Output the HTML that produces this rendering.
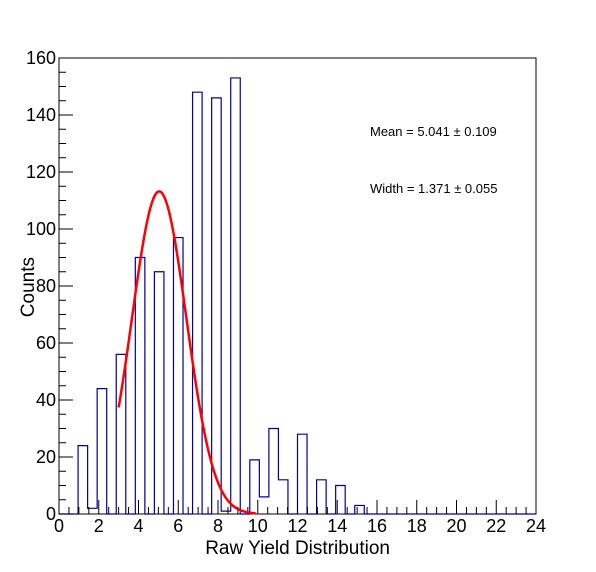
<!DOCTYPE html>
<html><head><meta charset="utf-8"><style>
html,body{margin:0;padding:0;background:#fff;}
svg{display:block;font-family:"Liberation Sans",Arial,sans-serif;}
</style></head><body>
<svg id="c" width="596" height="572"></svg>
<script>
const binWidth = 0.48;
const binStart = 0;
const counts = [0,0,24,2,44,0,56,0,90,0,85,0,97,0,148,0,146,1,153,0,19,6,30,12,0,28,0,12,0,10,0,3,0,0,0,0,0,0,0,0,0,0,0,0,0,0,0,0,0,0];
const xTicks = [0,2,4,6,8,10,12,14,16,18,20,22,24];
const yTicks = [0,20,40,60,80,100,120,140,160];
const fitMean = 5.041, fitSigma = 1.371, fitConst = 113.2, fitMin = 3.0, fitMax = 9.9;

const L=59,R=536,T=58,B=514, X0=0,X1=24,Y0=0,Y1=160;
const sx=v=>L+(v-X0)/(X1-X0)*(R-L);
const sy=v=>B-(v-Y0)/(Y1-Y0)*(B-T);
const svg=document.getElementById('c');
const NS='http://www.w3.org/2000/svg';
function mk(tag,attrs,parent){const e=document.createElementNS(NS,tag);for(const k in attrs)e.setAttribute(k,attrs[k]);(parent||svg).appendChild(e);return e;}

let frame=mk('rect',{x:L,y:T,width:R-L,height:B-T,fill:'none',stroke:'#000','stroke-width':1});



let d='';let started=false;
for(let i=0;i<counts.length;i++){
  const x0=sx(binStart+i*binWidth),x1=sx(binStart+(i+1)*binWidth),y=sy(counts[i]);
  if(!started){d+=`M${x0},${sy(0)} L${x0},${y}`;started=true;} else d+=` L${x0},${y}`;
  d+=` L${x1},${y}`;
}
d+=` L${sx(binStart+counts.length*binWidth)},${sy(0)}`;
let h=mk('path',{d:d,fill:'none',stroke:'#0000a0','stroke-width':1.2});



const ax=mk('g',{stroke:'#000','stroke-width':1});


for(let v=0;v<=24.001;v+=0.5){
  const x=sx(v);const len=(Math.abs(v%2)<1e-6)?14:7;
  mk('line',{x1:x,y1:B,x2:x,y2:B-len},ax);
}
const ay=mk('g',{stroke:'#000','stroke-width':1});


for(let v=0;v<=160.001;v+=5){
  const y=sy(v);const len=(v%20===0)?14:7;
  mk('line',{x1:L,y1:y,x2:L+len,y2:y},ay);
}
xTicks.forEach(v=>{
  const t=mk('text',{x:sx(v),y:B+18,'text-anchor':'middle','font-size':18});
  t.textContent=v;
  
  
});
yTicks.forEach(v=>{
  const t=mk('text',{x:L-3,y:sy(v)+6,'text-anchor':'end','font-size':18});
  t.textContent=v;
  
  
});

let pts=[];
for(let i=0;i<=200;i++){const x=fitMin+(fitMax-fitMin)*i/200;const y=fitConst*Math.exp(-0.5*Math.pow((x-fitMean)/fitSigma,2));pts.push(sx(x)+','+sy(y));}
let f=mk('polyline',{points:pts.join(' '),fill:'none',stroke:'#ff0000','stroke-width':2.5});



let t1=mk('text',{x:370,y:136,'font-size':13});t1.textContent='Mean = 5.041 \u00b1 0.109';


let t2=mk('text',{x:370,y:193,'font-size':13});t2.textContent='Width = 1.371 \u00b1 0.055';


let xt=mk('text',{x:390,y:554,'text-anchor':'end','font-size':19});xt.textContent='Raw Yield Distribution';


let yt=mk('text',{x:0,y:0,'text-anchor':'end','font-size':19,transform:'translate(34,257) rotate(-90)'});yt.textContent='Counts';


</script>
</body></html>
